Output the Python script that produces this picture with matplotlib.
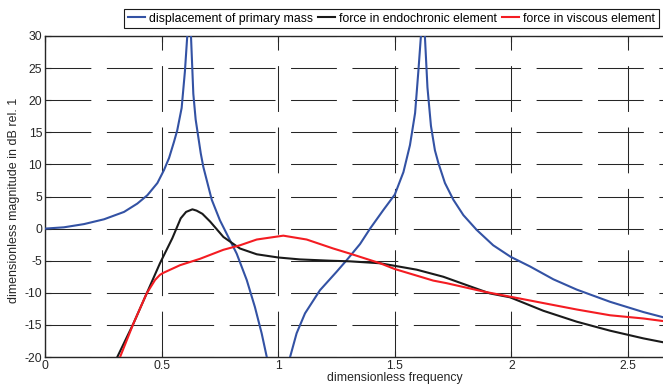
"""Frequency response of a 2-DOF system with endochronic and viscous elements."""

import matplotlib

matplotlib.use("Agg")
import matplotlib.pyplot as plt

# values (points beyond the axes are estimates)
freq_disp = [0.0, 0.081, 0.167, 0.253, 0.339, 0.396, 0.439, 0.482, 0.510, 0.532, 0.553, 0.567,
             0.586, 0.600, 0.610, 0.618, 0.626, 0.636, 0.646, 0.668, 0.679, 0.715, 0.750, 0.786,
             0.822, 0.865, 0.900, 0.929, 0.951, 1.0, 1.051, 1.079, 1.115, 1.179, 1.251, 1.294,
             1.351, 1.394, 1.451, 1.500, 1.537, 1.565, 1.587, 1.601, 1.612, 1.620, 1.629, 1.640,
             1.655, 1.672, 1.687, 1.715, 1.751, 1.794, 1.851, 1.922, 1.997, 2.080, 2.180, 2.280,
             2.423, 2.566, 2.650, 2.750]
db_disp = [0.0, 0.2, 0.7, 1.45, 2.6, 3.9, 5.2, 7.1, 9.1, 11.0, 13.5, 15.3,
           18.8, 24.5, 30.0, 42.0, 30.0, 21.0, 17.0, 11.7, 9.6, 4.5, 1.3, -1.3,
           -3.9, -8.0, -12.2, -16.3, -20.0, -32.0, -20.0, -16.3, -13.2, -9.6, -6.7, -4.9,
           -2.4, 0.0, 2.9, 5.3, 8.8, 13.0, 18.0, 24.5, 30.0, 42.0, 30.0, 22.0,
           16.0, 12.2, 10.2, 7.1, 4.5, 2.1, -0.2, -2.6, -4.4, -5.9, -7.9, -9.5,
           -11.4, -13.0, -13.8, -14.5]

freq_endo = [0.28, 0.310, 0.379, 0.436, 0.493, 0.546, 0.582, 0.605, 0.632, 0.650, 0.675, 0.708,
             0.765, 0.836, 0.908, 1.0, 1.093, 1.222, 1.308, 1.437, 1.500, 1.594, 1.708, 1.808,
             1.908, 1.994, 2.137, 2.280, 2.423, 2.566, 2.650, 2.750]
db_endo = [-25.0, -20.0, -14.8, -10.1, -5.4, -1.5, 1.6, 2.6, 3.0, 2.8, 2.3, 1.1,
           -1.3, -3.1, -4.0, -4.5, -4.8, -5.0, -5.1, -5.4, -5.8, -6.4, -7.5, -8.8,
           -10.1, -10.7, -12.8, -14.5, -15.9, -17.1, -17.7, -18.3]

freq_visc = [0.29, 0.322, 0.379, 0.436, 0.472, 0.493, 0.507, 0.579, 0.622, 0.665, 0.765, 0.836,
             0.908, 1.022, 1.122, 1.236, 1.308, 1.351, 1.437, 1.500, 1.665, 1.722, 1.880, 1.994,
             2.137, 2.280, 2.423, 2.566, 2.650, 2.750]
db_visc = [-25.0, -20.0, -14.8, -10.1, -8.0, -7.2, -6.9, -5.7, -5.2, -4.7, -3.3, -2.6,
           -1.7, -1.1, -1.7, -3.1, -3.9, -4.4, -5.4, -6.3, -8.1, -8.5, -9.8, -10.6,
           -11.6, -12.6, -13.5, -14.0, -14.4, -14.8]

x_ticks = [0, 0.5, 1, 1.5, 2, 2.5]
x_tick_labels = ["0", "0.5", "1", "1.5", "2", "2.5"]
y_ticks = [-20, -15, -10, -5, 0, 5, 10, 15, 20, 25, 30]

plt.rcParams["font.family"] = ["Liberation Sans", "DejaVu Sans"]
plt.rcParams["axes.unicode_minus"] = False
plt.rcParams["lines.scale_dashes"] = False

W, H = 663, 387
fig = plt.figure(figsize=(W / 100, H / 100), dpi=100)

# the original picture is cropped: the axes run on past the right edge
px_per_unit = 233.2
x_max = 3.0
ax_left, ax_top, ax_bottom = 45, 36, 357
ax = fig.add_axes([ax_left / W, 1 - ax_bottom / H, x_max * px_per_unit / W, (ax_bottom - ax_top) / H])

ax.plot(freq_disp, db_disp, color="#3352a4", linewidth=1.5, label="displacement of primary mass", zorder=3)
ax.plot(freq_endo, db_endo, color="#1a1a1a", linewidth=1.5, label="force in endochronic element", zorder=3)
ax.plot(freq_visc, db_visc, color="#f41c22", linewidth=1.5, label="force in viscous element", zorder=3)

ax.set_xlim(0, x_max)
ax.set_ylim(-20, 30)
ax.set_xticks(x_ticks)
ax.set_xticklabels(x_tick_labels)
ax.set_yticks(y_ticks)
ax.tick_params(direction="in", length=4, width=0.8, labelsize=8.8, colors="#262626",
               top=True, right=True, pad=2)

ax.grid(True, color="#262626", linewidth=0.75, linestyle=(0, (33.0, 11.2)))
for spine in ax.spines.values():
    spine.set_linewidth(1.0)
    spine.set_color("#262626")

ax.set_xlabel("dimensionless frequency", fontsize=8.8, color="#262626", labelpad=0)
fig.text(14 / W, 1 - 200 / H, "dimensionless magnitude in dB rel. 1", rotation=90,
         fontsize=9, color="#262626", ha="center", va="center")

leg = fig.legend(loc="upper left", bbox_to_anchor=(124 / W, 1 - 9 / H), ncol=3, fontsize=8.8,
                 frameon=True, fancybox=False, edgecolor="#1a1a1a", framealpha=1,
                 handlelength=1.4, handletextpad=0.35, columnspacing=0.4, borderpad=0.3,
                 borderaxespad=0)
leg.get_frame().set_linewidth(0.8)

fig.savefig("out.png", dpi=100)
